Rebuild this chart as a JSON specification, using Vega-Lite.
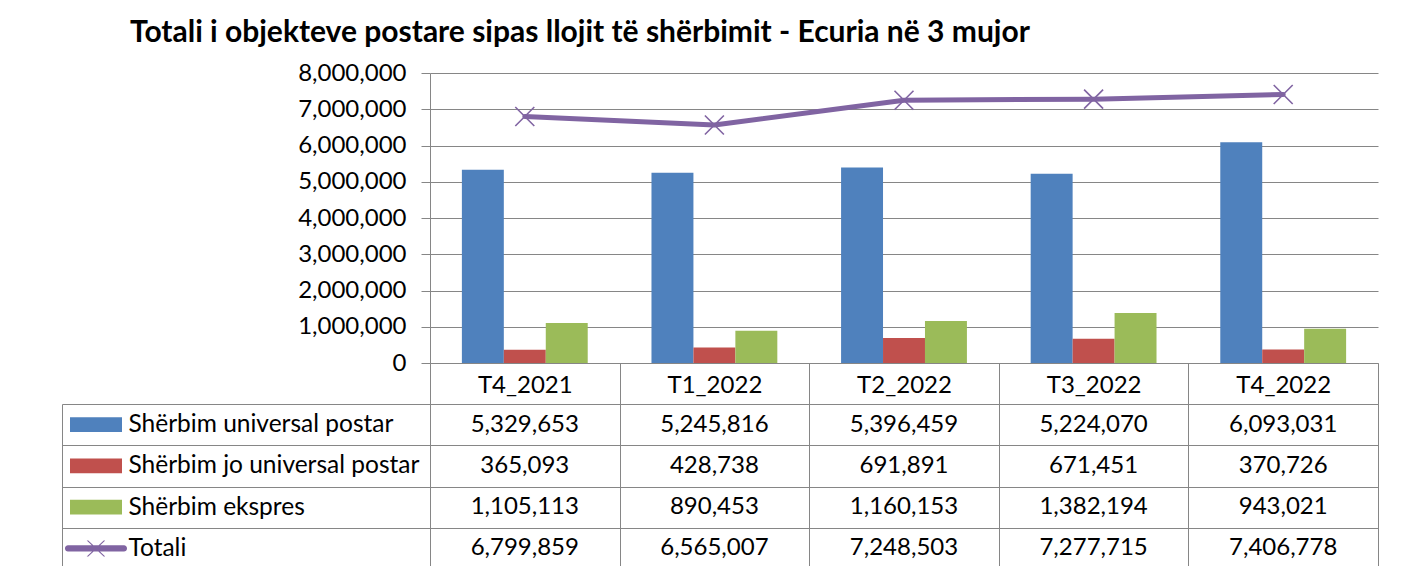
{
  "$schema": "https://vega.github.io/schema/vega-lite/v6.json",
  "padding": {"left": 61, "top": 18, "right": 5, "bottom": 0},
  "background": "white",
  "config": {
    "font": "Lato",
    "view": {"stroke": null},
    "axis": {"labelFont": "Lato", "labelColor": "#000000", "titleFont": "Lato"},
    "text": {"font": "Lato"}
  },
  "title": {
    "text": "Totali i objekteve postare sipas llojit të shërbimit - Ecuria në 3 mujor",
    "anchor": "start",
    "font": "Lato",
    "fontSize": 30,
    "fontWeight": "bold",
    "color": "#000000",
    "dx": 69,
    "offset": 13
  },
  "datasets": {
    "d": [
      {"period": "T4_2021", "series": "Shërbim universal postar", "value": 5329653},
      {"period": "T1_2022", "series": "Shërbim universal postar", "value": 5245816},
      {"period": "T2_2022", "series": "Shërbim universal postar", "value": 5396459},
      {"period": "T3_2022", "series": "Shërbim universal postar", "value": 5224070},
      {"period": "T4_2022", "series": "Shërbim universal postar", "value": 6093031},
      {"period": "T4_2021", "series": "Shërbim jo universal postar", "value": 365093},
      {"period": "T1_2022", "series": "Shërbim jo universal postar", "value": 428738},
      {"period": "T2_2022", "series": "Shërbim jo universal postar", "value": 691891},
      {"period": "T3_2022", "series": "Shërbim jo universal postar", "value": 671451},
      {"period": "T4_2022", "series": "Shërbim jo universal postar", "value": 370726},
      {"period": "T4_2021", "series": "Shërbim ekspres", "value": 1105113},
      {"period": "T1_2022", "series": "Shërbim ekspres", "value": 890453},
      {"period": "T2_2022", "series": "Shërbim ekspres", "value": 1160153},
      {"period": "T3_2022", "series": "Shërbim ekspres", "value": 1382194},
      {"period": "T4_2022", "series": "Shërbim ekspres", "value": 943021},
      {"period": "T4_2021", "series": "Totali", "value": 6799859},
      {"period": "T1_2022", "series": "Totali", "value": 6565007},
      {"period": "T2_2022", "series": "Totali", "value": 7248503},
      {"period": "T3_2022", "series": "Totali", "value": 7277715},
      {"period": "T4_2022", "series": "Totali", "value": 7406778}
    ]
  },
  "columns": 2,
  "spacing": {"row": 41, "column": 300},
  "bounds": "flush",
  "concat": [
    {
      "width": 68,
      "height": 290,
      "data": {"values": []},
      "mark": {"type": "point", "opacity": 0}
    },
    {
      "width": 948,
      "height": 290,
      "data": {"name": "d"},
      "encoding": {
        "x": {
          "field": "period",
          "type": "nominal",
          "sort": ["T4_2021", "T1_2022", "T2_2022", "T3_2022", "T4_2022"],
          "scale": {"paddingInner": 0, "paddingOuter": 0},
          "axis": {
            "title": null,
            "orient": "bottom",
            "tickBand": "extent",
            "tickSize": 41,
            "tickColor": "#868686",
            "domainColor": "#868686",
            "labelFontSize": 24,
            "labelPadding": -31,
            "labelAngle": 0,
            "grid": false
          }
        },
        "y": {
          "field": "value",
          "type": "quantitative",
          "scale": {"domain": [0, 8000000], "nice": false},
          "axis": {
            "title": null,
            "values": [0, 1000000, 2000000, 3000000, 4000000, 5000000, 6000000, 7000000, 8000000],
            "format": ",d",
            "labelFontSize": 24,
            "labelPadding": 15,
            "tickSize": 9,
            "tickColor": "#868686",
            "domainColor": "#868686",
            "gridColor": "#868686",
            "grid": true
          }
        }
      },
      "layer": [
        {
          "transform": [{"filter": "datum.series !== 'Totali'"}],
          "mark": {"type": "bar"},
          "encoding": {
            "xOffset": {
              "field": "series",
              "type": "nominal",
              "sort": ["Shërbim universal postar", "Shërbim jo universal postar", "Shërbim ekspres"],
              "scale": {"paddingInner": 0, "paddingOuter": 0.76}
            },
            "color": {
              "field": "series",
              "type": "nominal",
              "scale": {
                "domain": ["Shërbim universal postar", "Shërbim jo universal postar", "Shërbim ekspres", "Totali"],
                "range": ["#4F81BD", "#C0504D", "#9BBB59", "#8064A2"]
              },
              "legend": null
            }
          }
        },
        {
          "transform": [{"filter": "datum.series === 'Totali'"}],
          "mark": {"type": "line", "color": "#8064A2", "strokeWidth": 5, "strokeCap": "round", "strokeJoin": "round"},
          "encoding": {}
        },
        {
          "transform": [{"filter": "datum.series === 'Totali'"}],
          "mark": {
            "type": "point",
            "shape": "M-1,-1L1,1M-1,1L1,-1",
            "size": 361,
            "filled": false,
            "stroke": "#8064A2",
            "strokeWidth": 1.6,
            "opacity": 1
          },
          "encoding": {}
        }
      ]
    },
    {
      "width": 68,
      "height": 165,
      "data": {"name": "d"},
      "transform": [{"aggregate": [{"op": "count", "as": "n"}], "groupby": ["series"]}],
      "mark": {"type": "point", "filled": true, "size": 4096, "opacity": 1},
      "encoding": {
        "y": {
          "field": "series",
          "type": "nominal",
          "sort": ["Shërbim universal postar", "Shërbim jo universal postar", "Shërbim ekspres", "Totali"],
          "scale": {"paddingInner": 0, "paddingOuter": 0},
          "axis": null
        },
        "shape": {
          "field": "series",
          "type": "nominal",
          "scale": {
            "domain": ["Shërbim universal postar", "Shërbim jo universal postar", "Shërbim ekspres", "Totali"],
            "range": [
              "M-0.8125,-0.234H0.8125V0.234H-0.8125Z",
              "M-0.8125,-0.234H0.8125V0.234H-0.8125Z",
              "M-0.8125,-0.234H0.8125V0.234H-0.8125Z",
              "M-0.875,-0.094H0.875A0.094,0.094 0 0 1 0.875,0.094H-0.875A0.094,0.094 0 0 1 -0.875,-0.094Z M-0.29,-0.25L-0.24,-0.25L0.29,0.25L0.24,0.25Z M-0.24,0.25L-0.29,0.25L0.24,-0.25L0.29,-0.25Z"
            ]
          },
          "legend": null
        },
        "color": {
          "field": "series",
          "type": "nominal",
          "scale": {
            "domain": ["Shërbim universal postar", "Shërbim jo universal postar", "Shërbim ekspres", "Totali"],
            "range": ["#4F81BD", "#C0504D", "#9BBB59", "#8064A2"]
          },
          "legend": null
        }
      }
    },
    {
      "width": 948,
      "height": 165,
      "data": {"name": "d"},
      "view": {"stroke": "#868686"},
      "mark": {"type": "text", "fontSize": 24, "color": "#000000", "align": "center", "baseline": "middle"},
      "encoding": {
        "x": {
          "field": "period",
          "type": "nominal",
          "sort": ["T4_2021", "T1_2022", "T2_2022", "T3_2022", "T4_2022"],
          "scale": {"paddingInner": 0, "paddingOuter": 0},
          "axis": {
            "title": null,
            "labels": false,
            "ticks": false,
            "domain": false,
            "grid": true,
            "tickBand": "extent",
            "gridColor": "#868686"
          }
        },
        "y": {
          "field": "series",
          "type": "nominal",
          "sort": ["Shërbim universal postar", "Shërbim jo universal postar", "Shërbim ekspres", "Totali"],
          "scale": {"paddingInner": 0, "paddingOuter": 0},
          "axis": {
            "title": null,
            "orient": "left",
            "offset": 368,
            "domain": true,
            "domainColor": "#868686",
            "ticks": true,
            "tickSize": -368,
            "tickColor": "#868686",
            "tickBand": "extent",
            "grid": true,
            "gridColor": "#868686",
            "labelAlign": "left",
            "labelPadding": 302,
            "labelFontSize": 24.5,
            "labelLimit": 0
          }
        },
        "text": {"field": "value", "type": "quantitative", "format": ","}
      }
    }
  ]
}
